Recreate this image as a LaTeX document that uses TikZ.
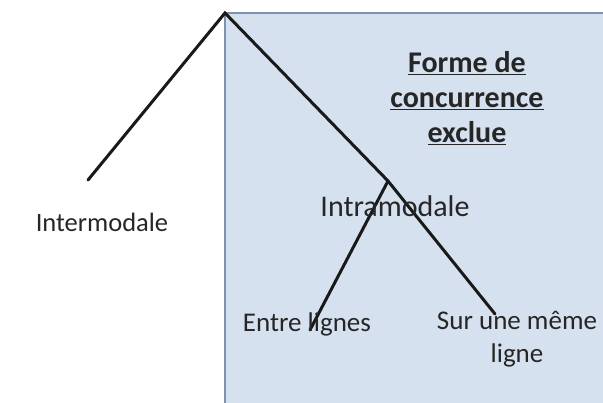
\documentclass[tikz,border=0pt]{standalone}
\usepackage{fontspec}
\setmainfont{Carlito}
\definecolor{boxfill}{HTML}{D6E1EF}
\definecolor{boxline}{HTML}{7F93AE}
\begin{document}
\begin{tikzpicture}[x=1pt,y=1pt,
  branch/.style={line width=3pt, black!90, line cap=round},
  lbl/.style={inner sep=0pt, align=center, text=black!85}]
\useasboundingbox (0,0) rectangle (603,403);
\begin{scope}
\clip (0,0) rectangle (603,403);
\fill[boxfill] (225,390) rectangle (620,-20);
\draw[boxline, line width=2.5pt] (225,-20) -- (225,390) -- (620,390);
\end{scope}
\coordinate (apex) at (225,390);
\coordinate (left) at (88,223);
\coordinate (junc) at (388,222);
\coordinate (rend) at (495,89);
\coordinate (lend) at (310,73);
\draw[branch] (left) -- (apex) -- (junc) -- (rend);
\draw[branch] (junc) -- (lend);
\node[lbl, font=\fontsize{26.5}{30}\selectfont, anchor=base] (inter) at (102,171) {Intermodale};
\node[lbl, font=\fontsize{30}{34}\selectfont, anchor=base] (intra) at (395,186) {Intramodale};
\node[lbl, font=\fontsize{30}{35}\selectfont\bfseries] (forme) at (467,305) {\underline{Forme de}\\\underline{concurrence}\\\underline{exclue}};
\node[lbl, font=\fontsize{27}{32}\selectfont, anchor=base] (entre) at (307,71) {Entre lignes};
\node[lbl, font=\fontsize{27}{33}\selectfont] (sur) at (517,64) {Sur une même\\ligne};
\end{tikzpicture}
\end{document}
